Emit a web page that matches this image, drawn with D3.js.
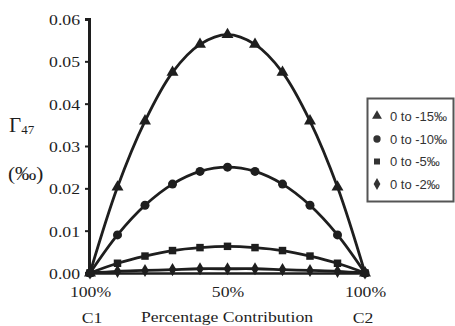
<!DOCTYPE html>
<html><head><meta charset="utf-8">
<script src="https://cdn.jsdelivr.net/npm/d3@7"></script>
<style>body{margin:0;background:#fff}svg{display:block}</style>
</head><body>
<script>
const percents = [0,10,20,30,40,50,60,70,80,90,100];
const seriesNames = ["0 to -15‰","0 to -10‰","0 to -5‰","0 to -2‰"];
const s15 = [0,0.0203,0.0359,0.0474,0.0540,0.0563,0.0540,0.0474,0.0359,0.0203,0];
const s10 = [0,0.0090,0.0160,0.0210,0.0240,0.0250,0.0240,0.0210,0.0160,0.0090,0];
const s5  = [0,0.0023,0.0040,0.0053,0.0060,0.0063,0.0060,0.0053,0.0040,0.0023,0];
const s2  = [0,0.0004,0.0006,0.0008,0.0010,0.0010,0.0010,0.0008,0.0006,0.0004,0];
const yTicks = [0,0.01,0.02,0.03,0.04,0.05,0.06];
const xTickVals = [0,50,100];
const xTickLabels = ["100%","50%","100%"];
const symbols = [d3.symbolTriangle, d3.symbolCircle, d3.symbolSquare, d3.symbolDiamond];
const symSizes = [62, 64, 56, 50];
const allSeries = [s15,s10,s5,s2];

const W=455,H=326;
const svg=d3.select("body").append("svg").attr("width",W).attr("height",H);
const x=d3.scaleLinear().domain([0,100]).range([90,365]);
const y=d3.scaleLinear().domain([0,0.06]).range([273,19]);
const col="#1e1e1e";
const serif="'Liberation Serif','Times New Roman',serif";
const fs=15.5, sx=1.14;

// y axis
const ya=svg.append("g").attr("transform","translate(89,0)")
  .call(d3.axisLeft(y).tickValues(yTicks).tickFormat(d3.format(".2f")).tickSizeOuter(0).tickSize(4).tickPadding(4));
ya.select(".domain").attr("stroke",col).attr("stroke-width",3);
ya.selectAll(".tick line").attr("stroke",col).attr("stroke-width",2);
ya.selectAll("text").attr("font-family",serif).attr("font-size",fs).attr("fill",col).attr("dy","0.35em")
  .attr("x",-9/sx).attr("transform",`scale(${sx},1)`);

// x axis
const xa=svg.append("g").attr("transform","translate(0,273)")
  .call(d3.axisBottom(x).tickValues(xTickVals).tickFormat((d,i)=>xTickLabels[i]).tickSize(0).tickPadding(13));
xa.select(".domain").attr("stroke",col).attr("stroke-width",2.5);
xa.selectAll("text").attr("font-family",serif).attr("font-size",fs).attr("fill",col).attr("transform",`scale(${sx},1)`);

function label(txt,cx,by){
  svg.append("text").attr("transform",`translate(${cx},${by}) scale(${sx},1)`).attr("text-anchor","middle")
    .attr("font-family",serif).attr("font-size",fs).attr("fill",col).text(txt);
}
label("C1",92,323);
label("C2",363,323);
label("Percentage Contribution",227,322);

// y title
const t1=svg.append("text").attr("x",9).attr("y",132).attr("font-family",serif).attr("font-size",21).attr("fill",col);
t1.append("tspan").text("Γ");
t1.append("tspan").attr("font-size",13).attr("dy",2).text("47");
svg.append("text").attr("transform",`translate(8,180) scale(1.12,1)`).attr("font-family",serif).attr("font-size",19).attr("fill",col)
  .text("(‰)");

// lines
const line=d3.line().x((d,i)=>x(percents[i])).y(d=>y(d)).curve(d3.curveCatmullRom.alpha(0.5));
allSeries.forEach((s,k)=>{
  svg.append("path").attr("d",line(s)).attr("fill","none").attr("stroke",col).attr("stroke-width",2.8);
});
allSeries.forEach((s,k)=>{
  svg.append("g").selectAll("path").data(s).join("path")
    .attr("transform",(d,i)=>`translate(${x(percents[i])},${y(d)})`)
    .attr("d",d3.symbol().type(symbols[k]).size(symSizes[k])).attr("fill",col);
});

// legend
const lg=svg.append("g");
lg.append("rect").attr("x",367.5).attr("y",98.5).attr("width",86).attr("height",103).attr("fill","#fff").attr("stroke","#555").attr("stroke-width",2);
const rows=[116,139,161.5,184];
seriesNames.forEach((n,k)=>{
  lg.append("path").attr("transform",`translate(377,${rows[k]})`).attr("d",d3.symbol().type(symbols[k]).size([42,42,36,40][k])).attr("fill","#333");
  lg.append("text").attr("x",390).attr("y",rows[k]).attr("dy","0.35em").attr("font-family","'Liberation Sans',Arial,sans-serif").attr("font-size",13).attr("fill","#333").text(n);
});
</script>
</body></html>
